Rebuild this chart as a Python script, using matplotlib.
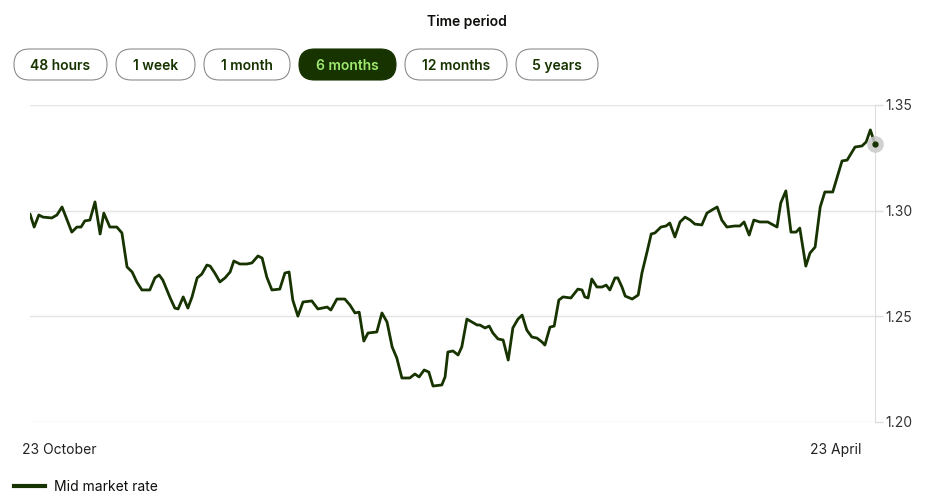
import matplotlib
matplotlib.use('Agg')
import matplotlib.pyplot as plt
import matplotlib.transforms as mtransforms
from matplotlib.patches import FancyBboxPatch
from matplotlib.lines import Line2D

plt.rcParams['font.family'] = ['Inter', 'DejaVu Sans']

# days since 23 October, mid market rate
days = [0.0, 0.9, 1.9, 2.8, 4.7, 5.8, 6.9, 8.0, 9.0, 10.1, 11.0, 11.8, 12.9, 14.0, 15.1, 15.9,
        17.2, 18.7, 19.8, 20.9, 22.0, 23.0, 24.1, 25.8, 26.9, 27.8, 28.6, 30.2, 31.2, 31.9,
        33.0, 34.0, 34.9, 36.0, 37.0, 38.1, 38.8, 39.8, 40.9, 42.0, 43.1, 43.9, 45.2, 46.7,
        47.8, 49.1, 50.0, 51.0, 52.1, 53.8, 54.9, 55.8, 56.6, 57.7, 58.8, 60.7, 62.0, 64.0,
        64.8, 66.1, 67.8, 68.9, 70.0, 70.9, 71.9, 72.8, 74.7, 75.8, 76.9, 78.0, 79.0, 80.1,
        81.8, 82.9, 83.8, 84.9, 85.9, 86.8, 88.7, 89.4, 90.0, 91.1, 92.2, 93.0, 94.1, 95.2,
        96.3, 96.9, 98.0, 98.9, 99.7, 100.8, 101.9, 103.0, 104.0, 105.1, 106.0, 107.0, 108.1,
        109.2, 110.3, 110.9, 112.0, 112.9, 113.9, 114.8, 116.5, 118.0, 118.9, 119.5, 120.2,
        121.0, 122.1, 123.2, 124.1, 124.9, 126.0, 126.6, 127.5, 128.2, 129.7, 131.0, 131.8,
        132.9, 133.8, 134.6, 135.9, 137.0, 137.8, 138.9, 140.0, 141.1, 142.2, 143.2, 144.7,
        145.8, 146.9, 148.0, 149.0, 150.1, 151.8, 152.9, 153.8, 154.9, 155.9, 157.2, 158.9,
        160.9, 161.7, 162.8, 163.9, 165.0, 165.8, 167.1, 168.0, 169.1, 170.2, 171.2, 172.9,
        174.9, 176.0, 177.7, 179.2, 180.1, 181.0, 182.0]
rates = [1.2984, 1.2922, 1.2979, 1.2969, 1.2965, 1.2979, 1.3017, 1.2955, 1.2898, 1.2922,
         1.2922, 1.2951, 1.2955, 1.3041, 1.2889, 1.2988, 1.2922, 1.2922, 1.2894, 1.2733,
         1.2709, 1.2662, 1.2624, 1.2624, 1.2681, 1.2695, 1.2671, 1.2586, 1.2538, 1.2534,
         1.2591, 1.2538, 1.2591, 1.2681, 1.2699, 1.2742, 1.2737, 1.2704, 1.2662, 1.2681,
         1.2709, 1.2761, 1.2747, 1.2747, 1.2752, 1.2785, 1.2775, 1.2685, 1.2624, 1.2628,
         1.2704, 1.2709, 1.2576, 1.2500, 1.2567, 1.2572, 1.2534, 1.2543, 1.2529, 1.2581,
         1.2581, 1.2553, 1.2515, 1.2519, 1.2382, 1.2420, 1.2425, 1.2515, 1.2472, 1.2354,
         1.2302, 1.2207, 1.2207, 1.2226, 1.2212, 1.2245, 1.2235, 1.2169, 1.2174, 1.2212,
         1.2330, 1.2335, 1.2316, 1.2354, 1.2486, 1.2472, 1.2458, 1.2458, 1.2444, 1.2453,
         1.2420, 1.2392, 1.2387, 1.2292, 1.2444, 1.2486, 1.2505, 1.2434, 1.2401, 1.2396,
         1.2377, 1.2363, 1.2448, 1.2453, 1.2576, 1.2591, 1.2586, 1.2628, 1.2624, 1.2591,
         1.2586, 1.2676, 1.2638, 1.2638, 1.2647, 1.2624, 1.2681, 1.2681, 1.2638, 1.2595,
         1.2581, 1.2600, 1.2704, 1.2804, 1.2889, 1.2894, 1.2922, 1.2927, 1.2941, 1.2875,
         1.2946, 1.2969, 1.2955, 1.2936, 1.2932, 1.2988, 1.3003, 1.3017, 1.2955, 1.2922,
         1.2927, 1.2927, 1.2946, 1.2884, 1.2955, 1.2946, 1.2946, 1.2922, 1.3036, 1.3093,
         1.2898, 1.2898, 1.2917, 1.2737, 1.2799, 1.2827, 1.3017, 1.3088, 1.3088, 1.3235,
         1.3239, 1.3301, 1.3306, 1.3325, 1.3382, 1.3315]

tick_days = [0, 182]
tick_labels = ['23 October', '23 April']
y_ticks = [1.20, 1.25, 1.30, 1.35]
periods = ['48 hours', '1 week', '1 month', '6 months', '12 months', '5 years']
selected = '6 months'
legend_label = 'Mid market rate'

FOREST = '#163300'
LIME = '#9fe870'
INK = '#0e0f0c'

W, H = 939, 501
fig = plt.figure(figsize=(W / 100, H / 100), dpi=100)


def px_rect(x0, y0, x1, y1):
    return [x0 / W, 1 - y1 / H, (x1 - x0) / W, (y1 - y0) / H]


ax = fig.add_axes(px_rect(30, 105, 875, 421.7))
ln, = ax.plot(days, rates, color=FOREST, lw=2.0, solid_joinstyle='round',
              solid_capstyle='round', zorder=3)
ax.plot(days[-1], rates[-1], 'o', ms=12, color='#c9c9c9', alpha=0.85, mec='none',
        clip_on=False, zorder=4)
ax.plot(days[-1], rates[-1], 'o', ms=3.5, color=FOREST, clip_on=False, zorder=5)

ax.set_xlim(0, 182)
ax.set_ylim(1.20, 1.35)
ax.set_yticks(y_ticks, [f'{v:.2f}' for v in y_ticks])
ax.yaxis.tick_right()
ax.tick_params(axis='y', length=5.5, width=1, color='#dddddd', pad=2,
               labelsize=10, labelcolor='#333333')
ax.grid(axis='y', color='#e4e4e4', lw=1, zorder=0)
for s in ['top', 'left', 'bottom']:
    ax.spines[s].set_visible(False)
ax.spines['right'].set_color('#dddddd')

ax.set_xticks(tick_days, tick_labels)
ax.tick_params(axis='x', length=0, pad=15, labelsize=10, labelcolor='#222222')
xl = ax.get_xticklabels()
xl[0].set_ha('left')
xl[0].set_transform(xl[0].get_transform() + mtransforms.ScaledTranslation(-0.08, 0, fig.dpi_scale_trans))
xl[-1].set_ha('right')
xl[-1].set_transform(xl[-1].get_transform() + mtransforms.ScaledTranslation(-0.14, 0, fig.dpi_scale_trans))

# overlay in pixel units for the period selector and legend
over = fig.add_axes([0, 0, 1, 1])
over.set_xlim(0, W)
over.set_ylim(H, 0)
over.axis('off')

over.text(467, 22, 'Time period', ha='center', va='center', fontsize=10,
          fontweight='semibold', color=INK)

button_x = [(14, 107), (116, 195), (204, 290), (299, 396), (405, 507), (516, 598)]
for name, (x0, x1) in zip(periods, button_x):
    on = name == selected
    box = FancyBboxPatch((x0, 49), x1 - x0, 31, boxstyle='round,pad=0,rounding_size=15.5',
                         fc=FOREST if on else 'white', ec=FOREST if on else '#8c8c8c',
                         lw=0.8)
    over.add_patch(box)
    over.text((x0 + x1) / 2, 65.5, name, ha='center', va='center', fontsize=10,
              fontweight='semibold', color=LIME if on else FOREST)

over.legend([Line2D([], [], color=FOREST, lw=3)], [legend_label], loc='center left',
            bbox_to_anchor=(14, 487), bbox_transform=over.transData, frameon=False,
            handlelength=2.2, handletextpad=0.7, borderpad=0, borderaxespad=0,
            fontsize=10, labelcolor=INK)

fig.savefig('out.png', dpi=100)
